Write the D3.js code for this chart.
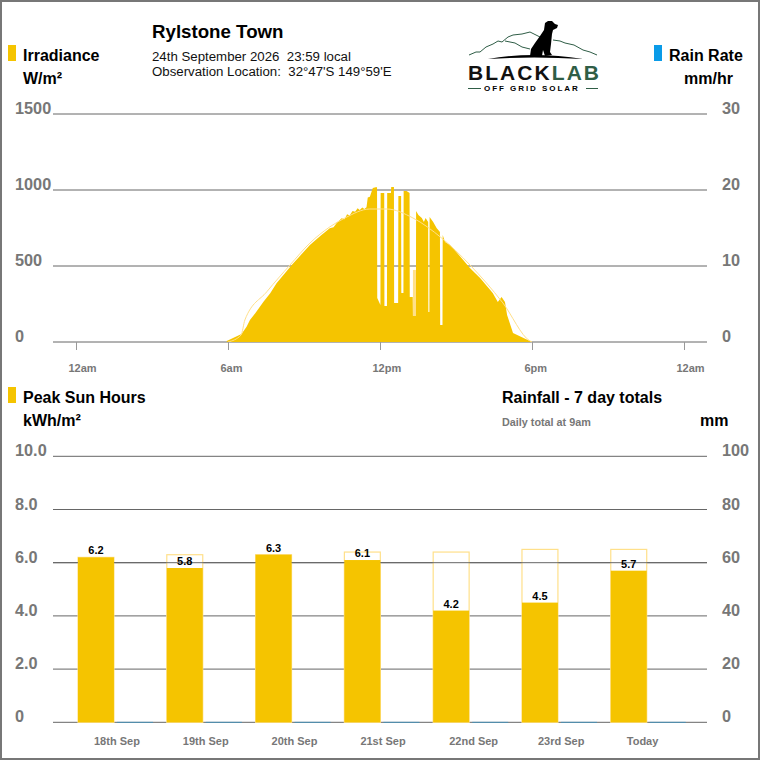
<!DOCTYPE html>
<html>
<head>
<meta charset="utf-8">
<script src="https://cdn.jsdelivr.net/npm/d3@7/dist/d3.min.js"></script>
<style>
    body { margin: 0; background: #fff; }
    svg { display: block; font-family: "Liberation Sans", Arial, sans-serif; }
    text { white-space: pre; }
    .head { font-size: 16px; font-weight: bold; fill: #000; }
    .info { font-size: 13.25px; fill: #111; }
    .small { font-size: 11px; font-weight: bold; fill: #777; }
    .axis text { font-size: 16.3px; font-weight: bold; fill: #777; }
    .axis path { display: none; }
    .axis line { stroke: #666; }
</style>
</head>
<body>
<svg id="chart" width="760" height="760"></svg>
<script>
const GOLD = '#f5c400'
const PALE = '#ffe08a'
const BLUE = '#0a9be8'
const GREY = '#777'
const GREEN = '#2f5d46'

// top chart, minutes since midnight
const irrMinutes = [357, 392, 404, 412, 425, 444, 460, 475, 511, 554, 580, 601, 610, 618, 629, 636, 642, 648, 655,
    661, 667, 672, 678, 683, 688, 691, 696, 703, 712, 713, 713.5,
    721, 721.5, 730, 730.5, 736.5, 737, 746, 746.5, 753, 753.5, 763, 763.5, 770, 770.5, 775.5, 776, 783, 790,
    790.5, 797.5, 798, 805, 805.5, 811, 819, 824, 828, 834, 834.5, 837, 837.5, 846, 854, 862, 862.5, 868, 868.5,
    874, 886, 909, 933, 957, 987, 999, 1008, 1016, 1021, 1035, 1075, 1080]
const irrValues = [7, 53, 100, 145, 190, 265, 320, 386, 507, 638, 700, 748, 755, 785, 814, 808, 840, 832, 862,
    857, 880, 868, 885, 875, 886, 950, 956, 1013, 1020, 1013, 289,
    243, 980, 980, 237, 237, 980, 980, 1020, 1020, 257, 257, 960, 960, 322, 322, 993, 993, 980,
    296, 296, 171, 171, 862, 835, 816, 790, 816, 790, 197, 197, 822, 790, 750, 724, 112, 112, 704,
    658, 638, 566, 487, 421, 322, 263, 296, 263, 178, 59, 7, 0]
const clearMinutes = [360, 391, 400, 452, 507, 554, 601, 637, 696, 736, 798, 866, 933, 1011, 1075, 1080]
const clearValues = [0, 46, 145, 331, 507, 651, 757, 816, 875, 875, 816, 684, 507, 257, 7, 0]
const ghostMinutes = [798, 805]
const ghostValues = [474, 474]
const irrTicks = [0, 500, 1000, 1500]
const rainRateTicks = [0, 10, 20, 30]
const hourTicks = [0, 360, 720, 1080, 1440]
const hourLabels = ['12am', '6am', '12pm', '6pm', '12am']

// bottom chart
const days = ['18th Sep', '19th Sep', '20th Sep', '21st Sep', '22nd Sep', '23rd Sep', 'Today']
const sunHours = [6.2, 5.8, 6.3, 6.1, 4.2, 4.5, 5.7]
const sunPotential = [6.2, 6.3, 6.3, 6.4, 6.4, 6.5, 6.5]
const rainTotals = [0, 0, 0, 0, 0, 0, 0]
const sunTicks = [0, 2, 4, 6, 8, 10]
const rainTicks = [0, 20, 40, 60, 80, 100]

const svg = d3.select('#chart')

svg.append('rect')
    .attr('x', 1).attr('y', 1)
    .attr('width', 758).attr('height', 758)
    .attr('fill', 'none')
    .attr('stroke', GREY)
    .attr('stroke-width', 2)

// grid axis, labels sit on the line level at both ends
function drawAxes(y, yRight, leftTicks, rightTicks, leftFormat) {
    const left = svg.append('g')
        .attr('class', 'axis')
        .attr('transform', 'translate(53,0)')
        .call(d3.axisRight(y).offset(0).tickValues(leftTicks).tickSize(654).tickFormat(leftFormat))
    left.selectAll('text')
        .attr('x', -38)
        .attr('dy', 0)
        .attr('text-anchor', 'start')

    const right = svg.append('g')
        .attr('class', 'axis')
        .attr('transform', 'translate(722,0)')
        .call(d3.axisRight(yRight).offset(0).tickValues(rightTicks).tickSize(0).tickFormat(d3.format('d')))
    right.selectAll('text')
        .attr('x', 0)
        .attr('dy', 0)
        .attr('text-anchor', 'start')
}

// top chart
const xTime = d3.scaleLinear().domain([0, 1440]).range([76, 684])
const yIrr = d3.scaleLinear().domain([0, 1500]).range([342, 114])
const yRainRate = d3.scaleLinear().domain([0, 30]).range([342, 114])

drawAxes(yIrr, yRainRate, irrTicks, rainRateTicks, d3.format('d'))

svg.append('path')
    .datum(ghostMinutes)
    .attr('fill', PALE)
    .attr('d', d3.area()
        .x((d) => xTime(d))
        .y0(yIrr(0))
        .y1((d, i) => yIrr(ghostValues[i])))

svg.append('path')
    .datum(irrMinutes)
    .attr('fill', GOLD)
    .attr('d', d3.area()
        .x((d) => xTime(d))
        .y0(yIrr(0))
        .y1((d, i) => yIrr(irrValues[i])))

svg.append('path')
    .datum(clearMinutes)
    .attr('fill', 'none')
    .attr('stroke', PALE)
    .attr('stroke-width', 1)
    .attr('d', d3.line()
        .curve(d3.curveMonotoneX)
        .x((d) => xTime(d))
        .y((d, i) => yIrr(clearValues[i])))

const timeAxis = svg.append('g')
    .attr('transform', `translate(0,${yIrr(0)})`)
    .call(d3.axisBottom(xTime).tickValues(hourTicks).tickSize(8).tickFormat((d, i) => hourLabels[i]))
timeAxis.select('.domain').remove()
timeAxis.selectAll('line').attr('stroke', '#999')
timeAxis.selectAll('text')
    .attr('class', 'small')
    .attr('x', -8)
    .attr('y', 30)
    .attr('dy', 0)
    .attr('text-anchor', 'start')
    .attr('font-family', null)
    .attr('font-size', null)
    .attr('fill', null)

// bottom chart
const xDay = d3.scaleBand().domain(days).range([78, 685.8]).paddingInner(0.155)
const xSeries = d3.scaleBand().domain(['sun', 'rain']).range([0, xDay.bandwidth()]).paddingInner(0.08)
const ySun = d3.scaleLinear().domain([0, 10]).range([722.3, 456.3])
const yRain = d3.scaleLinear().domain([0, 100]).range([722.3, 456.3])

drawAxes(ySun, yRain, sunTicks, rainTicks, (d) => d === 0 ? '0' : d.toFixed(1))

svg.selectAll('.potential')
    .data(days)
    .enter()
    .append('rect')
    .attr('class', 'potential')
    .attr('x', (d) => xDay(d))
    .attr('y', (d, i) => ySun(sunPotential[i]))
    .attr('width', xSeries.bandwidth())
    .attr('height', (d, i) => ySun(0) - ySun(sunPotential[i]))
    .attr('fill', '#fff')
    .attr('stroke', PALE)
    .attr('stroke-width', 1.2)

// grid shows through the empty part of the outline
svg.append('g')
    .attr('class', 'axis')
    .attr('transform', 'translate(53,0)')
    .call(d3.axisRight(ySun).offset(0).tickValues([6]).tickSize(654).tickFormat(''))

svg.selectAll('.sun')
    .data(days)
    .enter()
    .append('rect')
    .attr('class', 'sun')
    .attr('x', (d) => xDay(d))
    .attr('y', (d, i) => ySun(sunHours[i]))
    .attr('width', xSeries.bandwidth())
    .attr('height', (d, i) => ySun(0) - ySun(sunHours[i]))
    .attr('fill', GOLD)

svg.selectAll('.rain')
    .data(days)
    .enter()
    .append('line')
    .attr('class', 'rain')
    .attr('x1', (d) => xDay(d) + xSeries('rain'))
    .attr('x2', (d) => xDay(d) + xSeries('rain') + xSeries.bandwidth())
    .attr('y1', (d, i) => yRain(rainTotals[i]))
    .attr('y2', yRain(0))
    .attr('stroke', BLUE)
    .attr('stroke-opacity', 0.5)
    .attr('stroke-width', 1)

svg.selectAll('.sun-label')
    .data(days)
    .enter()
    .append('text')
    .attr('class', 'sun-label')
    .attr('x', (d) => xDay(d) + xSeries.bandwidth() / 2)
    .attr('y', (d, i) => ySun(sunHours[i]) - 3)
    .attr('text-anchor', 'middle')
    .attr('font-size', 11)
    .attr('font-weight', 'bold')
    .text((d, i) => sunHours[i].toFixed(1))

svg.selectAll('.day-label')
    .data(days)
    .enter()
    .append('text')
    .attr('class', 'small day-label')
    .attr('x', (d) => xDay(d) + 16)
    .attr('y', 745)
    .text((d) => d)

// headings
function label(x, y, text, cls) {
    return svg.append('text').attr('x', x).attr('y', y).attr('class', cls).text(text)
}

function swatch(x, y, color) {
    svg.append('rect').attr('x', x).attr('y', y).attr('width', 8).attr('height', 16).attr('fill', color)
}

swatch(8, 45, GOLD)
swatch(654, 45, BLUE)
swatch(8, 387, GOLD)
label(23, 61, 'Irradiance', 'head')
label(23, 84, 'W/m²', 'head')
label(669, 61, 'Rain Rate', 'head')
label(684, 84, 'mm/hr', 'head')
label(23, 403, 'Peak Sun Hours', 'head')
label(23, 426, 'kWh/m²', 'head')
label(502, 403, 'Rainfall - 7 day totals', 'head')
label(502, 426, 'Daily total at 9am', 'small').style('font-size', '10.8px')
label(700, 426, 'mm', 'head')
label(152, 38, 'Rylstone Town', 'head').style('font-size', '18.7px')
label(152, 61, '24th September 2026  23:59 local', 'info')
label(152, 76, 'Observation Location:  32°47\'S 149°59\'E', 'info')

// logo
const logo = svg.append('g')
logo.append('path')
    .attr('d', 'M469,55L476,52L480,52L486,47L493,44L498,41L502,42L508,37L513,35L522,34L530,32L540,37M505,41L515,43L522,47L530,49M553,40L560,41L565,43L574,45L583,50L590,52L597,55')
    .attr('fill', 'none')
    .attr('stroke', GREEN)
    .attr('stroke-width', 1)
logo.append('path')
    .attr('d', 'M488,59Q533,51 583,59Q533,56 488,59Z')
    .attr('fill', '#000')
logo.append('path')
    .attr('d', 'M558,25L555,24L552,21L548,21L545,23L544,30L540,36L535,43L531,49L530,56L542,56L543,50L545,56L552,55L550,52L551,44L552,34L553,30L557,28Z')
    .attr('fill', '#000')
logo.append('text')
    .attr('x', 468)
    .attr('y', 80)
    .attr('font-size', 21)
    .attr('font-weight', 'bold')
    .attr('letter-spacing', 2.05)
    .html(`<tspan fill="#111">BLACK</tspan><tspan fill="${GREEN}">LAB</tspan>`)
logo.append('text')
    .attr('x', 484)
    .attr('y', 90.5)
    .attr('font-size', 8)
    .attr('font-weight', 'bold')
    .attr('letter-spacing', 1.95)
    .text('OFF GRID SOLAR')
logo.append('path')
    .attr('d', 'M468,88.5H481M586,88.5H598')
    .attr('stroke', GREEN)
    .attr('stroke-width', 1)
</script>
</body>
</html>
